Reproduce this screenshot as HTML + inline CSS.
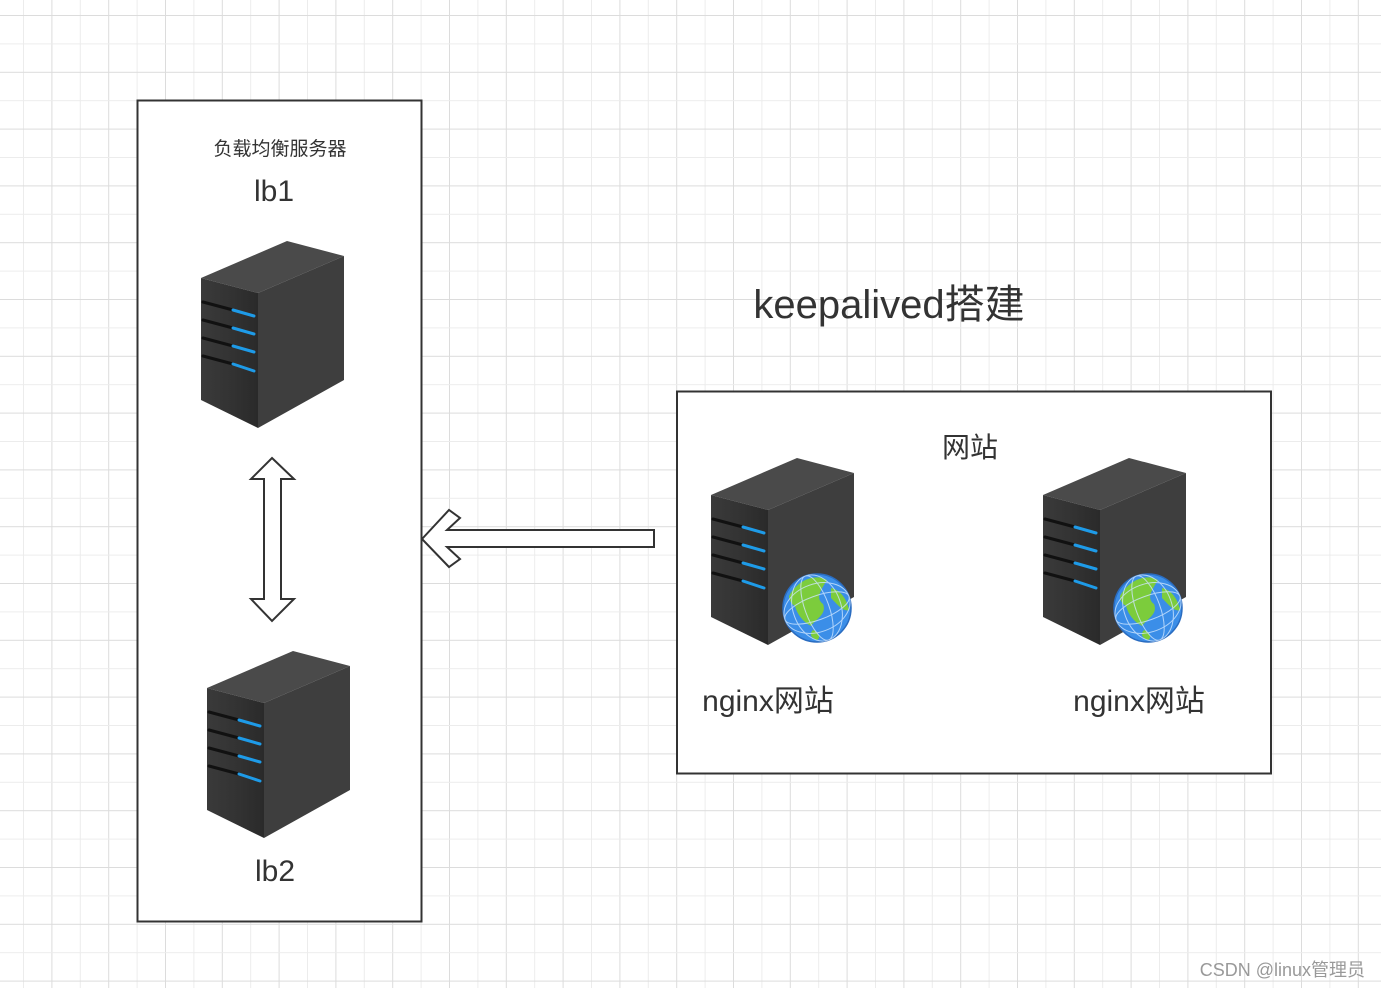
<!DOCTYPE html>
<html><head><meta charset="utf-8"><style>
html,body{margin:0;padding:0;}
body{width:1381px;height:988px;overflow:hidden;background:#fff;}
svg{display:block;}
text{font-family:"Liberation Sans","Noto Sans CJK SC",sans-serif;fill:#333;}
</style></head><body>
<svg width="1381" height="988" viewBox="0 0 1381 988">
<defs>
<pattern id="g" x="23" y="15" width="56.8" height="56.8" patternUnits="userSpaceOnUse">
<line x1="0.5" y1="0" x2="0.5" y2="56.8" stroke="#ececec" stroke-width="1"/>
<line x1="28.9" y1="0" x2="28.9" y2="56.8" stroke="#dcdcdc" stroke-width="1"/>
<line x1="0" y1="0.5" x2="56.8" y2="0.5" stroke="#dcdcdc" stroke-width="1"/>
<line x1="0" y1="28.9" x2="56.8" y2="28.9" stroke="#ececec" stroke-width="1"/>
</pattern>
<linearGradient id="fr" x1="0" x2="1"><stop offset="0" stop-color="#3a3a3a"/><stop offset="0.5" stop-color="#333"/><stop offset="1" stop-color="#2a2a2a"/></linearGradient>
<g id="srv">
<polygon points="0,37 86,0 143,15 57,52" fill="#4a4a4a"/>
<polygon points="0,37 57,52 57,187 0,159" fill="url(#fr)"/>
<polygon points="57,52 143,15 143,139 57,187" fill="#3e3e3e"/>
<g stroke-width="3" stroke-linecap="round">
<line x1="2" y1="61" x2="32" y2="69" stroke="#111"/><line x1="32" y1="69" x2="53" y2="75" stroke="#1e9be8"/>
<line x1="2" y1="79" x2="32" y2="87" stroke="#111"/><line x1="32" y1="87" x2="53" y2="93" stroke="#1e9be8"/>
<line x1="2" y1="97" x2="32" y2="105" stroke="#111"/><line x1="32" y1="105" x2="53" y2="111" stroke="#1e9be8"/>
<line x1="2" y1="115" x2="32" y2="123" stroke="#111"/><line x1="32" y1="123" x2="53" y2="130" stroke="#1e9be8"/>
</g>
</g>
<g id="globe">
<circle r="34" fill="#3b8ee8" stroke="#2a6cc0" stroke-width="1.5"/>
<path d="M-28,-12 C-18,-30 0,-34 10,-28 C4,-18 -2,-10 6,-4 C10,6 0,10 -6,18 C-14,14 -20,6 -22,-2 C-26,-4 -28,-8 -28,-12Z" fill="#7ccc3c"/>
<path d="M14,-20 C24,-18 30,-8 32,2 C26,4 20,-4 14,-10Z" fill="#7ccc3c"/>
<path d="M-4,22 C2,24 4,30 0,32 C-6,30 -8,26 -4,22Z" fill="#7ccc3c"/>
<g fill="none" stroke="#cfe6ff" stroke-width="1" opacity="0.8">
<ellipse rx="12" ry="34" transform="rotate(-20)"/><ellipse rx="24" ry="34" transform="rotate(-20)"/>
<ellipse rx="34" ry="12" transform="rotate(-20)"/><ellipse rx="34" ry="24" transform="rotate(-20)"/>
</g>
</g>
</defs>
<rect width="1381" height="988" fill="url(#g)"/>
<rect x="137.5" y="100.5" width="284" height="821" fill="#fff" stroke="#333" stroke-width="2"/>
<rect x="677" y="391.5" width="594" height="382" fill="#fff" stroke="#333" stroke-width="2"/>
<text x="280" y="155" font-size="19" text-anchor="middle">负载均衡服务器</text>
<text x="274" y="201" font-size="30" text-anchor="middle">lb1</text>
<text x="275" y="881" font-size="30" text-anchor="middle">lb2</text>
<use href="#srv" x="201" y="241"/>
<use href="#srv" x="207" y="651"/>
<use href="#srv" x="711" y="458"/>
<use href="#srv" x="1043" y="458"/>
<use href="#globe" x="817" y="608"/>
<use href="#globe" x="1148" y="608"/>
<polygon points="272,458 294,479 281,479 281,599 294,599 272,621 251,599 264,599 264,479 251,479" fill="#fff" stroke="#333" stroke-width="2"/>
<polygon points="422,539 449,510 460,518 447,530 654,530 654,547 447,547 460,559 449,567" fill="#fff" stroke="#333" stroke-width="2"/>
<text x="889" y="318" font-size="40" text-anchor="middle">keepalived搭建</text>
<text x="970" y="457" font-size="28" text-anchor="middle">网站</text>
<text x="768" y="711" font-size="30" text-anchor="middle">nginx网站</text>
<text x="1139" y="711" font-size="30" text-anchor="middle">nginx网站</text>
<text x="1365" y="976" font-size="18" text-anchor="end" style="fill:#999">CSDN @linux管理员</text>
</svg>
</body></html>
